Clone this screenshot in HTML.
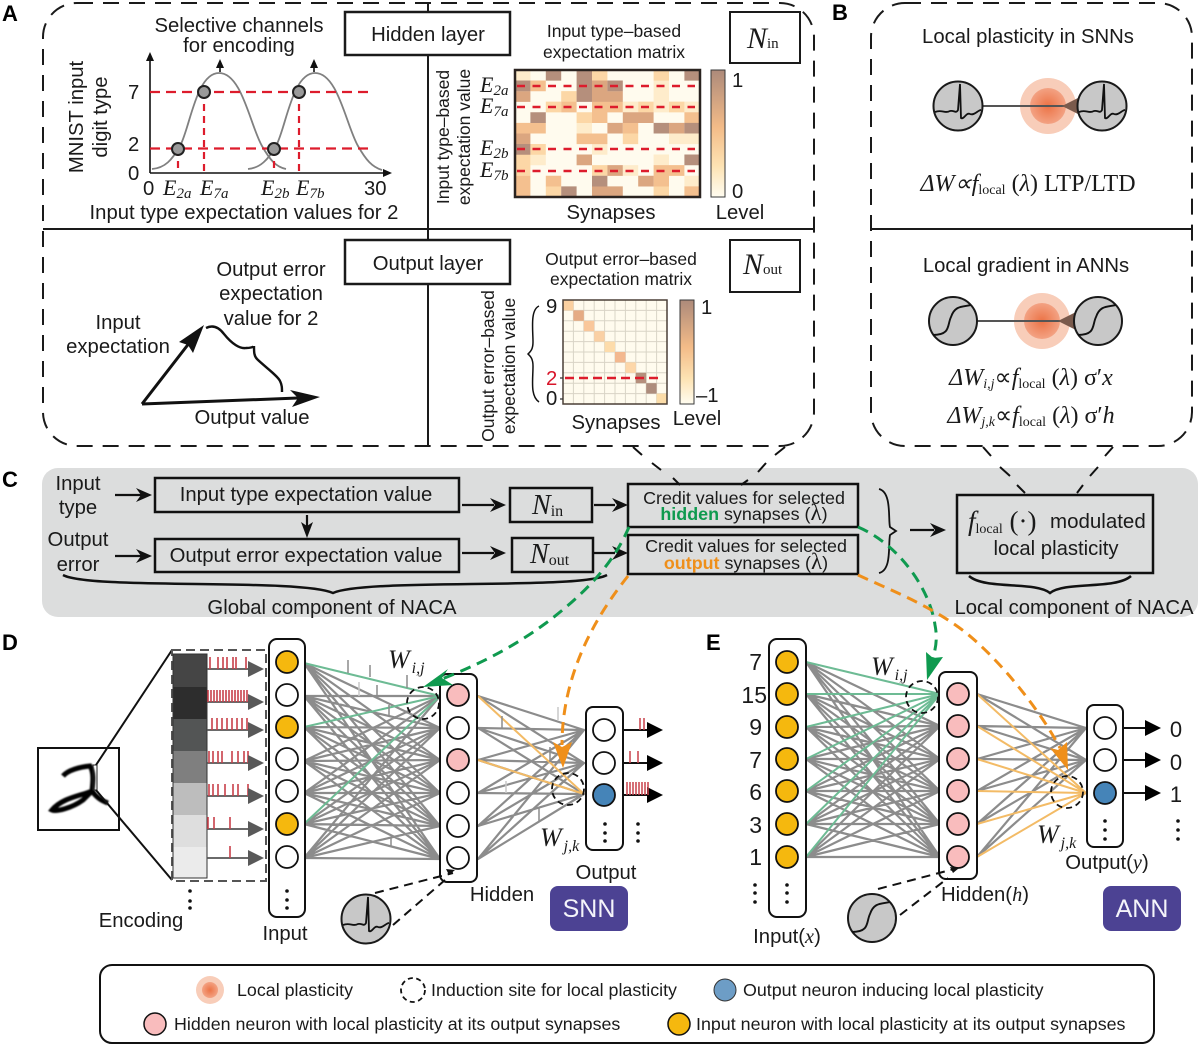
<!DOCTYPE html>
<html><head><meta charset="utf-8"><title>NACA diagram</title>
<style>
html,body{margin:0;padding:0;background:#fff}
svg{display:block}
text{font-family:"Liberation Sans",Arial,sans-serif;fill:#1a1a1a}
.s{font-family:"Liberation Serif",serif}
.i{font-family:"Liberation Serif",serif;font-style:italic}
.m{text-anchor:middle}
.b{font-weight:bold;fill:#000;font-size:22px}
</style></head><body>
<svg width="1200" height="1046" viewBox="0 0 1200 1046" xmlns="http://www.w3.org/2000/svg">
<defs>
<radialGradient id="g"><stop offset="0" stop-color="#ec7346"/><stop offset="1" stop-color="#f3a283"/></radialGradient>
<linearGradient id="cb" x1="0" y1="0" x2="0" y2="1"><stop offset="0" stop-color="#ad8a7a"/><stop offset=".45" stop-color="#f3bb88"/><stop offset=".75" stop-color="#fde2b2"/><stop offset="1" stop-color="#fffcf0"/></linearGradient>
<filter id="bl"><feGaussianBlur stdDeviation="0.900"/></filter>
<g id="sp"><circle r="24.500" fill="#c8c8c8" stroke="#1a1a1a" stroke-width="2"/><path d="M-23 6C-16 3-14 8-8 5C-4 4-2 8 0 4L2-22L3 12C6 14 8 6 12 8C16 10 20 4 23 4" fill="none" stroke="#111" stroke-width="1.800"/></g>
<g id="sg"><circle r="24" fill="#c8c8c8" stroke="#1a1a1a" stroke-width="2"/><path d="M-20 14C-2 14-6 4-2-4C2-16 10-14 18-16" fill="none" stroke="#111" stroke-width="1.900"/></g>
</defs>

<!-- Panels A B -->
<g fill="none" stroke="#1a1a1a" stroke-width="2">
<rect x="43" y="3" width="771" height="443" rx="34" stroke-dasharray="16 10"/>
<rect x="871" y="3" width="321" height="443" rx="34" stroke-dasharray="16 10"/>
<path d="M43 229H815M871 229H1192M428 3V446"/>
</g>
<text class="b" x="2" y="21">A</text>
<text class="b" x="832" y="20">B</text>
<text class="b" x="2" y="487">C</text>
<text class="b" x="2" y="650">D</text>
<text class="b" x="706" y="650">E</text>

<!-- Panel A top-left -->
<text class="m" x="239" y="32" font-size="20.300">Selective channels</text>
<text class="m" x="239" y="52" font-size="20.300">for encoding</text>
<text class="m" font-size="20.300" transform="translate(83 117) rotate(-90)">MNIST input</text>
<text class="m" font-size="20.300" transform="translate(107 117) rotate(-90)">digit type</text>
<text x="128" y="99" font-size="20.300">7</text><text x="128" y="151" font-size="20.300">2</text><text x="128" y="180" font-size="20.300">0</text>
<text x="143" y="195" font-size="20.300">0</text><text x="364" y="195" font-size="20.300">30</text>
<text class="m" x="244" y="219" font-size="20.300">Input type expectation values for 2</text>
<g fill="none" stroke="#111" stroke-width="1.600"><path d="M150 173V58M150 173H388M220 72V64M314 72V64"/></g>
<path d="M150 52l-4 9h8zM392 173l-9-4v8zM220 59l-4 9h8zM314 59l-4 9h8z" fill="#111"/>
<path d="M152 169C165 168 172 160 180 146C190 128 196 73 219 73C242 73 250 125 262 146C270 160 276 167 286 169M248 169C260 168 268 160 276 146C286 128 292 73 315 73C338 73 346 125 358 146C366 160 372 167 382 170" fill="none" stroke="#808080" stroke-width="1.800"/>
<path d="M150 92H374M150 148.500H374" stroke="#dd1c2c" stroke-width="2.200" stroke-dasharray="10 6" fill="none"/>
<path d="M178 149V173M204 92V173M274 149V173M299 92V173" stroke="#dd1c2c" stroke-width="2.200" stroke-dasharray="7 5" fill="none"/>
<g fill="#9a9a9a" stroke="#222" stroke-width="2"><circle cx="178" cy="149" r="6"/><circle cx="204" cy="92" r="6"/><circle cx="274" cy="149" r="6"/><circle cx="299" cy="92" r="6"/></g>
<text class="i" x="163" y="195" font-size="22">E<tspan font-size="15" dy="3">2a</tspan></text>
<text class="i" x="200" y="195" font-size="22">E<tspan font-size="15" dy="3">7a</tspan></text>
<text class="i" x="261" y="195" font-size="22">E<tspan font-size="15" dy="3">2b</tspan></text>
<text class="i" x="296" y="195" font-size="22">E<tspan font-size="15" dy="3">7b</tspan></text>

<!-- Hidden / N boxes -->
<g fill="#fff" stroke="#1a1a1a" stroke-width="2.500">
<rect x="345" y="12" width="165" height="43"/><rect x="345" y="240" width="165" height="44"/>
<rect x="730" y="12" width="70" height="51" stroke-width="2"/><rect x="730" y="240" width="70" height="52" stroke-width="2"/>
</g>
<text class="m" x="428" y="41" font-size="20.300">Hidden layer</text>
<text class="m" x="428" y="270" font-size="20.300">Output layer</text>
<text class="i" x="747" y="48" font-size="30">N<tspan font-style="normal" font-size="15">in</tspan></text>
<text class="i" x="743" y="274" font-size="30">N<tspan font-style="normal" font-size="15">out</tspan></text>

<!-- Heatmap A -->
<text class="m" x="614" y="37" font-size="17.500">Input type–based</text>
<text class="m" x="614" y="58" font-size="17.500">expectation matrix</text>
<text class="m" font-size="17.500" transform="translate(449 137) rotate(-90)">Input type–based</text>
<text class="m" font-size="17.500" transform="translate(470 137) rotate(-90)">expectation value</text>
<rect x="515" y="70" width="185" height="127" fill="#fffbee"/>
<g fill="none" stroke-width="10.700">
<path stroke="#feeccb" d="M515 75.300h15.400M653.600 85.900h15.400M653.600 96.500h15.400M622.800 107h15.400M653.600 107h15.400M684.400 107h15.400M576.600 128.200h15.400M669 138.800h30.800M592 149.400h15.400M530.400 159.900h15.400M653.600 159.900h15.400M622.800 170.500h15.400M684.400 181.100h15.400"/>
<path stroke="#fcd7a6" d="M592 75.300h15.400M653.600 75.300h15.400M561.200 96.500h15.400M545.800 107h15.400M638.200 107h15.400M669 107h15.400M576.600 117.600h15.400M622.800 138.800h15.400M530.400 149.400h15.400M515 159.900h15.400M515 170.500h15.400M592 170.500h15.400M545.800 191.700h15.400M653.600 191.700h15.400"/>
<path stroke="#f4c08f" d="M530.400 85.900h15.400M561.200 107h15.400M592 107h30.800M592 117.600h15.400M684.400 117.600h15.400M515 128.200h30.800M622.800 128.200h15.400M576.600 138.800h30.800M653.600 170.500h30.800M515 181.100h15.400M545.800 181.100h15.400M653.600 181.100h15.400M515 191.700h15.400M684.400 191.700h15.400"/>
<path stroke="#dba680" d="M592 85.900h15.400M515 96.500h15.400M592 96.500h30.800M622.800 117.600h30.800M607.400 128.200h15.400M669 128.200h15.400M515 138.800h15.400M576.600 159.900h15.400M607.400 170.500h15.400M638.200 181.100h15.400M592 191.700h30.800"/>
<path stroke="#b58f7c" d="M545.800 75.300h15.400M576.600 75.300h15.400M684.400 75.300h15.400M515 85.900h15.400M576.600 85.900h15.400M607.400 85.900h15.400M576.600 96.500h15.400M530.400 117.600h15.400M653.600 128.200h15.400M684.400 128.200h15.400M515 149.400h15.400M684.400 159.900h15.400M592 181.100h15.400M561.200 191.700h15.400"/>
</g>
<rect x="515" y="70" width="185" height="127" fill="none" stroke="#2a2320" stroke-width="2.500"/>
<path d="M517 86H695M517 107H695M517 149H695M517 171H695" stroke="#dd1c2c" stroke-width="2.500" stroke-dasharray="8 7.500" fill="none"/>
<text class="i" x="480" y="92" font-size="22">E<tspan font-size="15" dy="3">2a</tspan></text>
<text class="i" x="480" y="113" font-size="22">E<tspan font-size="15" dy="3">7a</tspan></text>
<text class="i" x="480" y="155" font-size="22">E<tspan font-size="15" dy="3">2b</tspan></text>
<text class="i" x="480" y="177" font-size="22">E<tspan font-size="15" dy="3">7b</tspan></text>
<rect x="711" y="70" width="14" height="127" fill="url(#cb)" stroke="#3a3a3a" stroke-width="1"/>
<text x="732" y="87" font-size="20.300">1</text><text x="732" y="198" font-size="20.300">0</text>
<text class="m" x="611" y="219" font-size="20.300">Synapses</text>
<text class="m" x="740" y="219" font-size="20.300">Level</text>

<!-- Lower-left triangle -->
<text class="m" x="271" y="276" font-size="20.300">Output error</text>
<text class="m" x="271" y="300" font-size="20.300">expectation</text>
<text class="m" x="271" y="325" font-size="20.300">value for 2</text>
<text class="m" x="118" y="329" font-size="20.300">Input</text>
<text class="m" x="118" y="353" font-size="20.300">expectation</text>
<text class="m" x="252" y="424" font-size="20.300">Output value</text>
<path d="M142 404L190 342M142 404L298 398" stroke="#111" stroke-width="3" fill="none"/>
<path d="M204 325L179 342L188 345L193 353zM320 397L290 390L298 398L292 407z" fill="#111"/>
<path d="M206 328C212 325 218 326 224 334C232 344 240 349 246 348C250 348 254 347 254 346C254 352 254 356 257 359C264 366 278 376 280 381C282 385 282 388 282 392" fill="none" stroke="#111" stroke-width="2.400"/>

<!-- Heatmap B -->
<text class="m" x="621" y="265" font-size="17.500">Output error–based</text>
<text class="m" x="621" y="285" font-size="17.500">expectation matrix</text>
<text class="m" font-size="17.500" transform="translate(494 366) rotate(-90)">Output error–based</text>
<text class="m" font-size="17.500" transform="translate(515 366) rotate(-90)">expectation value</text>
<path d="M539 306C530 310 533 330 533 342C533 350 530 352 528 354C530 356 533 358 533 366C533 380 530 396 539 402" fill="none" stroke="#111" stroke-width="1.500"/>
<rect x="563" y="300" width="104" height="104" fill="#fffbee"/>
<path d="M573.400 300v104M583.800 300v104M594.200 300v104M604.600 300v104M615 300v104M625.400 300v104M635.800 300v104M646.200 300v104M656.600 300v104M563 310.400h104M563 320.800h104M563 331.200h104M563 341.600h104M563 352h104M563 362.400h104M563 372.800h104M563 383.200h104M563 393.600h104" stroke="#d9d4c6" stroke-width="1" fill="none"/>
<rect x="563" y="300" width="10.400" height="10.400" fill="#fbd0a0"/>
<rect x="573.400" y="310.400" width="10.400" height="10.400" fill="#e5ab84"/>
<rect x="583.800" y="320.800" width="10.400" height="10.400" fill="#f9c79b"/>
<rect x="594.200" y="331.200" width="10.400" height="10.400" fill="#fad0a4"/>
<rect x="604.600" y="341.600" width="10.400" height="10.400" fill="#fddcab"/>
<rect x="615" y="352" width="10.400" height="10.400" fill="#f3b88f"/>
<rect x="625.400" y="362.400" width="10.400" height="10.400" fill="#fdd7a9"/>
<rect x="635.800" y="372.800" width="10.400" height="10.400" fill="#b58f7c"/>
<rect x="646.200" y="383.200" width="10.400" height="10.400" fill="#ad8c7c"/>
<rect x="656.600" y="393.600" width="10.400" height="10.400" fill="#fbdca8"/>
<rect x="563" y="300" width="104" height="104" fill="none" stroke="#4a3f36" stroke-width="1.500"/>
<path d="M565 378H663" stroke="#dd1c2c" stroke-width="2.500" stroke-dasharray="9 5" fill="none"/>
<path d="M560 378H563M560 399H563" stroke="#333" stroke-width="1.200"/>
<text x="546" y="313" font-size="20.300">9</text><text x="546" y="385" font-size="20.300" style="fill:#d8152a">2</text><text x="546" y="405" font-size="20.300">0</text>
<rect x="680" y="300" width="14" height="104" fill="url(#cb)" stroke="#3a3a3a" stroke-width="1"/>
<text x="701" y="314" font-size="20.300">1</text><text x="696" y="402" font-size="20.300">–1</text>
<text class="m" x="616" y="429" font-size="20.300">Synapses</text>
<text class="m" x="697" y="425" font-size="20.300">Level</text>

<!-- Panel B -->
<text class="m" x="1028" y="43" font-size="20.300">Local plasticity in SNNs</text>
<circle cx="1048" cy="106" r="28" fill="#f8cdb9"/><circle cx="1048" cy="106" r="18" fill="url(#g)"/>
<path d="M983 106H1066" stroke="#555" stroke-width="2"/>
<path d="M1062 106L1080 97V115z" fill="#7a5a4c"/>
<use href="#sp" x="958" y="106"/><use href="#sp" x="1102" y="106"/>
<text class="s m" x="1028" y="191" font-size="24"><tspan class="i">ΔW∝f</tspan><tspan font-size="14" dy="3">local</tspan><tspan dy="-3"> (</tspan><tspan class="i">λ</tspan>) LTP/LTD</text>
<text class="m" x="1026" y="272" font-size="20.300">Local gradient in ANNs</text>
<circle cx="1042" cy="321" r="28" fill="#f8cdb9"/><circle cx="1042" cy="321" r="18" fill="url(#g)"/>
<path d="M977 321H1060" stroke="#555" stroke-width="2"/>
<path d="M1058 321L1076 312V330z" fill="#7a5a4c"/>
<use href="#sg" x="953" y="321"/><use href="#sg" x="1098" y="321"/>
<text class="s m" x="1031" y="385" font-size="24"><tspan class="i">ΔW</tspan><tspan class="i" font-size="14" dy="3">i,j</tspan><tspan dy="-3">∝</tspan><tspan class="i">f</tspan><tspan font-size="14" dy="3">local</tspan><tspan dy="-3"> (</tspan><tspan class="i">λ</tspan>) σ′<tspan class="i">x</tspan></text>
<text class="s m" x="1031" y="423" font-size="24"><tspan class="i">ΔW</tspan><tspan class="i" font-size="14" dy="3">j,k</tspan><tspan dy="-3">∝</tspan><tspan class="i">f</tspan><tspan font-size="14" dy="3">local</tspan><tspan dy="-3"> (</tspan><tspan class="i">λ</tspan>) σ′<tspan class="i">h</tspan></text>

<!-- Panel C -->
<rect x="42" y="468" width="1156" height="149" rx="16" fill="#dcdddd"/>
<path d="M633 447L642 455M652 463L661 470M673 478L680 485M785 447L775 455M766 463L758 472M748 480L741 485M983 447L991 456M1000 467L1010 476M1017 485L1025 493M1113 447L1105 456M1098 467L1090 476M1083 485L1077 493" stroke="#111" stroke-width="2" fill="none"/>
<g fill="none" stroke="#111" stroke-width="2.500">
<rect x="155" y="478" width="304" height="34"/><rect x="155" y="539" width="304" height="33"/>
<rect x="510" y="488" width="82" height="34"/><rect x="512" y="538" width="81" height="34"/>
<rect x="628" y="484" width="230" height="43"/><rect x="628" y="535" width="230" height="39"/>
<rect x="957" y="495" width="196" height="78"/>
</g>
<text class="m" x="306" y="501" font-size="20.300">Input type expectation value</text>
<text class="m" x="306" y="562" font-size="20.300">Output error expectation value</text>
<text class="m" x="78" y="490" font-size="20.300">Input</text><text class="m" x="78" y="514" font-size="20.300">type</text>
<text class="m" x="78" y="546" font-size="20.300">Output</text><text class="m" x="78" y="571" font-size="20.300">error</text>
<text class="i" x="532" y="514" font-size="28">N<tspan font-style="normal" font-size="16" dy="2">in</tspan></text>
<text class="i" x="530" y="563" font-size="28">N<tspan font-style="normal" font-size="16" dy="2">out</tspan></text>
<text class="m" x="744" y="504" font-size="17.900">Credit values for selected</text>
<text class="m" x="744" y="520" font-size="17.900"><tspan font-weight="bold" style="fill:#0f9a4f">hidden</tspan> synapses (<tspan class="s" font-size="23">λ</tspan>)</text>
<text class="m" x="746" y="552" font-size="17.900">Credit values for selected</text>
<text class="m" x="746" y="569" font-size="17.900"><tspan font-weight="bold" style="fill:#ef8f1a">output</tspan> synapses (<tspan class="s" font-size="23">λ</tspan>)</text>
<text class="s" x="968" y="530" font-size="27"><tspan class="i">f</tspan><tspan font-size="14" dy="3">local</tspan><tspan dy="-3"> (·)</tspan></text>
<text x="1050" y="528" font-size="20.500">modulated</text>
<text class="m" x="1056" y="555" font-size="20.300">local plasticity</text>
<text class="m" x="332" y="614" font-size="20.300">Global component of NACA</text>
<text class="m" x="1074" y="614" font-size="20.300">Local component of NACA</text>
<g stroke="#111" stroke-width="2.200" fill="none"><path d="M115 495H142M115 556H142M462 505H494M462 553H494M594 505H615M594 553H615M307 515V527M910 530H934"/></g>
<path d="M152 495L136 488L141 495L136 502zM152 556L136 549L141 556L136 563zM506 505L490 498L495 505L490 512zM506 553L490 546L495 553L490 560zM628 505L612 498L617 505L612 512zM628 553L612 546L617 553L612 560zM307 538L301 522L307 526L313 522zM946 530L930 523L935 530L930 537z" fill="#111"/>
<path d="M63 575C90 590 300 578 333 593C366 578 580 590 607 575" fill="none" stroke="#111" stroke-width="2.500"/>
<path d="M969 576C985 590 1035 581 1050 593C1065 581 1115 590 1131 576" fill="none" stroke="#111" stroke-width="2.500"/>
<path d="M879 489C892 492 888 520 890 527L896 531L890 535C888 545 892 570 879 573" fill="none" stroke="#111" stroke-width="1.800"/>

<!-- Digit -->
<rect x="38" y="748" width="81" height="82" fill="#fff" stroke="#111" stroke-width="2"/>
<path d="M63 776C68 770 80 767 90 766C94 772 93 782 92 791C80 796 62 798 52 810C56 812 72 808 83 800L92 791C96 797 102 801 108 803" fill="none" stroke="#000" stroke-width="5" filter="url(#bl)"/>
<rect x="93" y="765" width="4" height="25" fill="none" stroke="#222" stroke-width="1"/>
<path d="M96 765L172 650M96 790L172 880" stroke="#111" stroke-width="2" fill="none"/>

<!-- Encoding -->
<rect x="172" y="650" width="94" height="231" fill="none" stroke="#555" stroke-width="2" stroke-dasharray="9 5"/>
<rect x="173" y="654" width="34" height="33" fill="#454545"/><rect x="173" y="687" width="34" height="32" fill="#2d2d2d"/>
<rect x="173" y="719" width="34" height="32" fill="#535555"/><rect x="173" y="751" width="34" height="32" fill="#7f7f7f"/>
<rect x="173" y="783" width="34" height="32" fill="#bdbdbd"/><rect x="173" y="815" width="34" height="32" fill="#dedede"/>
<rect x="173" y="847" width="34" height="31" fill="#ebebeb"/>
<rect x="173" y="654" width="34" height="224" fill="none" stroke="#333" stroke-width="1"/>
<path d="M207 669H248M207 702H248M207 730H248M207 763H248M207 796H248M207 829H248M207 858H248" stroke="#555" stroke-width="1.800"/>
<path d="M210 669v-12M218 669v-12M223 669v-12M227 669v-12M233 669v-12M236 669v-12M246 669v-12M208 702v-12M211 702v-12M214 702v-12M217 702v-12M220 702v-12M223 702v-12M226 702v-12M229 702v-12M232 702v-12M235 702v-12M238 702v-12M241 702v-12M244 702v-12M247 702v-12M212 730v-12M217 730v-12M222 730v-12M227 730v-12M232 730v-12M237 730v-12M242 730v-12M247 730v-12M209 763v-12M213 763v-12M218 763v-12M222 763v-12M232 763v-12M238 763v-12M244 763v-12M248 763v-12M209 796v-12M213 796v-12M218 796v-12M225 796v-12M233 796v-12M238 796v-12M248 796v-12M208 829v-12M214 829v-12M230 829v-12M230 858v-12" stroke="#c8404a" stroke-width="1.600"/>
<path d="M248 661L264 669L248 677zM248 694L264 702L248 710zM248 722L264 730L248 738zM248 755L264 763L248 771zM248 788L264 796L248 804zM248 821L264 829L248 837zM248 850L264 858L248 866z" fill="#595959"/>
<g fill="#111"><circle cx="190" cy="891" r="1.800"/><circle cx="190" cy="901" r="1.800"/><circle cx="190" cy="908" r="1.800"/></g>
<text class="m" x="141" y="927" font-size="20.300">Encoding</text>

<!-- SNN connections -->
<path fill="none" stroke="#8c8c8c" stroke-width="2.200" stroke-linejoin="round" d="M304 663 440 728 304 663 440 760 304 663 440 793 304 663 440 826 304 663 440 859
M304 696 440 696 304 696 440 728 304 696 440 760 304 696 440 793 304 696 440 826 304 696 440 859
M304 727 440 728 304 727 440 760 304 727 440 793 304 727 440 826 304 727 440 859
M304 761 440 696 304 761 440 728 304 761 440 760 304 761 440 793 304 761 440 826 304 761 440 859
M304 793 440 696 304 793 440 728 304 793 440 760 304 793 440 793 304 793 440 826 304 793 440 859
M304 824 440 728 304 824 440 760 304 824 440 793 304 824 440 826 304 824 440 859
M304 858 440 696 304 858 440 728 304 858 440 760 304 858 440 793 304 858 440 826 304 858 440 859
M478 696 584 730 478 696 584 763 478 728 584 730 478 728 584 763 478 728 584 794 478 760 584 730 478 760 584 763 478 793 584 730 478 793 584 763 478 793 584 794 478 826 584 730 478 826 584 763 478 826 584 794 478 859 584 730 478 859 584 763 478 859 584 794"/>
<path fill="none" stroke="#6dbb94" stroke-width="2" d="M304 663L440 696M304 727L440 696M304 824L440 696"/>
<path fill="none" stroke="#f3bb66" stroke-width="2" d="M478 696L584 794M478 760L584 794"/>
<path fill="none" stroke="#8c8c8c" stroke-width="1.500" d="M348 660v13M370 665v12M407 675v13M377 685v11M389 705v10M391 837v10M502 716v12M550 747v15M539 808v14"/>
<path fill="none" stroke="#c9c9c9" stroke-width="1.500" d="M359 682v14M558 707v13M506 781v12"/>

<!-- ANN connections -->
<path fill="none" stroke="#8c8c8c" stroke-width="2.200" stroke-linejoin="round" d="M806 662 940 726 806 662 940 759 806 662 940 791 806 662 940 824 806 662 940 857
M806 694 940 726 806 694 940 759 806 694 940 791 806 694 940 824 806 694 940 857
M806 727 940 726 806 727 940 759 806 727 940 791 806 727 940 824 806 727 940 857
M806 759 940 726 806 759 940 759 806 759 940 791 806 759 940 824 806 759 940 857
M806 791 940 726 806 791 940 759 806 791 940 791 806 791 940 824 806 791 940 857
M806 824 940 726 806 824 940 759 806 824 940 791 806 824 940 824 806 824 940 857
M806 857 940 726 806 857 940 759 806 857 940 791 806 857 940 824 806 857 940 857
M977 694 1086 728 977 694 1086 760 977 726 1086 728 977 726 1086 760 977 759 1086 728 977 759 1086 760 977 791 1086 728 977 791 1086 760 977 824 1086 728 977 824 1086 760 977 857 1086 728 977 857 1086 760"/>
<path fill="none" stroke="#6dbb94" stroke-width="2" d="M806 662L940 694M806 694L940 694M806 727L940 694M806 759L940 694M806 791L940 694M806 824L940 694M806 857L940 694"/>
<path fill="none" stroke="#f3bb66" stroke-width="2" d="M977 694L1086 793M977 726L1086 793M977 759L1086 793M977 791L1086 793M977 824L1086 793M977 857L1086 793"/>

<!-- Column boxes -->
<g fill="#fff" stroke="#111" stroke-width="2">
<rect x="269" y="639" width="36" height="278" rx="8"/><rect x="440" y="674" width="37" height="208" rx="7"/><rect x="586" y="707" width="37" height="143" rx="7"/>
<rect x="769" y="639" width="37" height="278" rx="8"/><rect x="939" y="672" width="38" height="207" rx="7"/><rect x="1087" y="705" width="36" height="142" rx="7"/>
</g>
<!-- Neurons -->
<g stroke="#111" stroke-width="1.800" fill="#fff">
<g fill="#f5b80e"><circle cx="287" cy="662" r="11"/><circle cx="287" cy="727" r="11"/><circle cx="287" cy="824" r="11"/></g>
<circle cx="287" cy="695" r="11"/><circle cx="287" cy="759" r="11"/><circle cx="287" cy="791" r="11"/><circle cx="287" cy="857" r="11"/>
<g fill="#f9bcbd"><circle cx="458" cy="695" r="11"/><circle cx="458" cy="760" r="11"/></g>
<circle cx="458" cy="728" r="11"/><circle cx="458" cy="793" r="11"/><circle cx="458" cy="826" r="11"/><circle cx="458" cy="858" r="11"/>
<circle cx="604" cy="730" r="11"/><circle cx="604" cy="763" r="11"/><circle cx="604" cy="795" r="11" fill="#4584b8"/>
<g fill="#f5b80e"><circle cx="787" cy="662" r="11"/><circle cx="787" cy="694" r="11"/><circle cx="787" cy="727" r="11"/><circle cx="787" cy="759" r="11"/><circle cx="787" cy="791" r="11"/><circle cx="787" cy="824" r="11"/><circle cx="787" cy="857" r="11"/></g>
<g fill="#f9bcbd"><circle cx="958" cy="694" r="11"/><circle cx="958" cy="726" r="11"/><circle cx="958" cy="759" r="11"/><circle cx="958" cy="791" r="11"/><circle cx="958" cy="824" r="11"/><circle cx="958" cy="857" r="11"/></g>
<circle cx="1105" cy="728" r="11"/><circle cx="1105" cy="760" r="11"/><circle cx="1105" cy="793" r="11" fill="#4584b8"/>
</g>
<!-- Dots -->
<g fill="#111">
<circle cx="287" cy="891" r="1.800"/><circle cx="287" cy="900" r="1.800"/><circle cx="287" cy="908" r="1.800"/>
<circle cx="605" cy="824" r="1.800"/><circle cx="605" cy="833" r="1.800"/><circle cx="605" cy="841" r="1.800"/>
<circle cx="638" cy="824" r="1.800"/><circle cx="638" cy="833" r="1.800"/><circle cx="638" cy="841" r="1.800"/>
<circle cx="755" cy="885" r="1.800"/><circle cx="755" cy="893" r="1.800"/><circle cx="755" cy="902" r="1.800"/>
<circle cx="787" cy="885" r="1.800"/><circle cx="787" cy="893" r="1.800"/><circle cx="787" cy="902" r="1.800"/>
<circle cx="1105" cy="821" r="1.800"/><circle cx="1105" cy="830" r="1.800"/><circle cx="1105" cy="839" r="1.800"/>
<circle cx="1178" cy="821" r="1.800"/><circle cx="1178" cy="830" r="1.800"/><circle cx="1178" cy="839" r="1.800"/>
</g>
<!-- Output arrows -->
<path d="M623 730H650M623 763H650M623 795H650M1123 728H1148M1123 760H1148M1123 793H1148" stroke="#111" stroke-width="2"/>
<path d="M647 722L663 730L647 738zM647 755L663 763L647 771zM647 787L663 795L647 803zM1145 720L1161 728L1145 736zM1145 752L1161 760L1145 768zM1145 785L1161 793L1145 801z" fill="#000"/>
<path d="M640 730v-12M644 730v-12M630 763v-12M638 763v-12M627 795v-13M630 795v-13M633 795v-13M636 795v-13M639 795v-13M642 795v-13M645 795v-13M648 795v-13" stroke="#c8404a" stroke-width="1.500"/>
<!-- Induction circles -->
<g fill="none" stroke="#111" stroke-width="1.800" stroke-dasharray="6 4">
<circle cx="423" cy="703" r="16"/><circle cx="568" cy="789" r="16"/><circle cx="922" cy="697" r="16"/><circle cx="1067" cy="792" r="16"/>
</g>
<!-- Spike/sigmoid insets -->
<use href="#sp" x="366" y="919"/><use href="#sg" x="872" y="918"/>
<path d="M375 893L453 873M393 925L445 880M878 889L958 868M900 915L948 878" stroke="#111" stroke-width="2" stroke-dasharray="9 6" fill="none"/>
<path d="M455 870l-9-1 3 6zM959 868l-9-1 3 6z" fill="#111"/>
<!-- Labels -->
<text class="m" x="285" y="940" font-size="20.300">Input</text>
<text class="m" x="502" y="901" font-size="20.300">Hidden</text>
<text class="m" x="606" y="879" font-size="20.300">Output</text>
<text class="m" x="787" y="943" font-size="20.300">Input(<tspan class="i">x</tspan>)</text>
<text class="m" x="985" y="901" font-size="20.300">Hidden(<tspan class="i">h</tspan>)</text>
<text class="m" x="1107" y="869" font-size="20.300">Output(<tspan class="i">y</tspan>)</text>
<text class="i" x="388" y="668" font-size="26">W<tspan font-size="16" dx="2" dy="5">i,j</tspan></text>
<text class="i" x="540" y="846" font-size="26">W<tspan font-size="16" dx="2" dy="5">j,k</tspan></text>
<text class="i" x="871" y="675" font-size="26">W<tspan font-size="16" dx="2" dy="5">i,j</tspan></text>
<text class="i" x="1037" y="843" font-size="26">W<tspan font-size="16" dx="2" dy="5">j,k</tspan></text>
<text x="762" y="670" font-size="23" text-anchor="end">7</text><text x="767" y="703" font-size="23" text-anchor="end">15</text><text x="762" y="735" font-size="23" text-anchor="end">9</text><text x="762" y="768" font-size="23" text-anchor="end">7</text><text x="762" y="800" font-size="23" text-anchor="end">6</text><text x="762" y="833" font-size="23" text-anchor="end">3</text><text x="762" y="865" font-size="23" text-anchor="end">1</text>
<text class="m" x="1176" y="737" font-size="22">0</text><text class="m" x="1176" y="770" font-size="22">0</text><text class="m" x="1176" y="802" font-size="22">1</text>
<rect x="550" y="886" width="78" height="45" rx="8" fill="#4c4293"/><rect x="1103" y="886" width="78" height="45" rx="8" fill="#4c4293"/>
<text class="m" x="589" y="917" font-size="25" style="fill:#f4f4fa">SNN</text>
<text class="m" x="1142" y="917" font-size="25" style="fill:#f4f4fa">ANN</text>

<!-- Coloured dashed connectors -->
<g fill="none" stroke-width="3" stroke-dasharray="11 7">
<path stroke="#0f9a4f" d="M629 527C615 560 590 590 546 623C520 642 490 660 442 679"/>
<path stroke="#0f9a4f" d="M858 527C900 545 930 590 935 625C938 640 935 650 933 658"/>
<path stroke="#ef8f1a" d="M628 576C605 605 562 665 562 745"/>
<path stroke="#ef8f1a" d="M858 575C890 590 930 605 965 632C1000 660 1040 710 1060 748"/>
</g>
<path d="M423 687L448 669L442 678L453 685zM927 680L926 652L933 658L943 657z" fill="#0f9a4f"/>
<path d="M563 768L553 742L562 747L572 742zM1068 770L1050 748L1058 750L1067 742z" fill="#ef8f1a"/>

<!-- Legend -->
<rect x="100" y="965" width="1054" height="78" rx="12" fill="#fff" stroke="#111" stroke-width="2"/>
<circle cx="210" cy="990" r="14" fill="#f8cdb9"/><circle cx="210" cy="990" r="8" fill="url(#g)"/>
<text x="237" y="996" font-size="17.850">Local plasticity</text>
<circle cx="413" cy="990" r="12" fill="none" stroke="#111" stroke-width="1.800" stroke-dasharray="5 3.500"/>
<text x="431" y="996" font-size="17.850">Induction site for local plasticity</text>
<circle cx="725" cy="990" r="11" fill="#6d9dc6" stroke="#333" stroke-width="1"/>
<text x="743" y="996" font-size="17.850">Output neuron inducing local plasticity</text>
<circle cx="155" cy="1024" r="11" fill="#f9bcbd" stroke="#111" stroke-width="1.500"/>
<text x="174" y="1030" font-size="17.850">Hidden neuron with local plasticity at its output synapses</text>
<circle cx="679" cy="1024" r="11" fill="#f5b80e" stroke="#111" stroke-width="1.500"/>
<text x="696" y="1030" font-size="17.850">Input neuron with local plasticity at its output synapses</text>
</svg>
</body></html>
